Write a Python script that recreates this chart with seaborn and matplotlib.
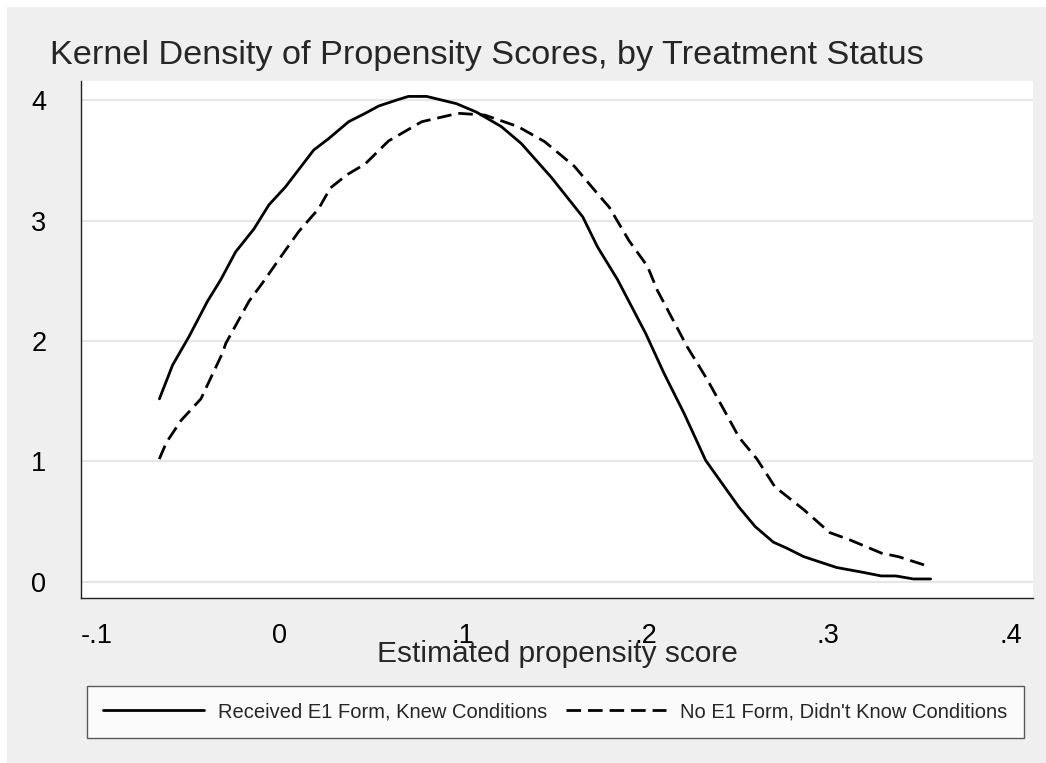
import matplotlib
matplotlib.use("Agg")
import matplotlib.pyplot as plt
from matplotlib.patches import Rectangle
import seaborn as sns
import pandas as pd

# ---- data ----
treated_x = [-0.0659, -0.0587, -0.0496, -0.0396, -0.0323, -0.0242, -0.0142, -0.0060,
             0.0031, 0.0185, 0.0267, 0.0376, 0.0467, 0.0540, 0.0639, 0.0703, 0.0803,
             0.0966, 0.1075, 0.1211, 0.1320, 0.1484, 0.1657, 0.1738, 0.1847, 0.2002,
             0.2102, 0.2211, 0.2329, 0.2512, 0.2600, 0.2700, 0.2774, 0.2866, 0.3046,
             0.3190, 0.3290, 0.3370, 0.3466, 0.3560]
treated_y = [1.52, 1.80, 2.04, 2.33, 2.51, 2.74, 2.93, 3.13,
             3.28, 3.585, 3.68, 3.82, 3.89, 3.95, 4.00, 4.03, 4.03,
             3.97, 3.90, 3.78, 3.64, 3.36, 3.03, 2.78, 2.51, 2.06,
             1.73, 1.40, 1.01, 0.62, 0.46, 0.33, 0.28, 0.21, 0.12,
             0.08, 0.05, 0.05, 0.025, 0.025]

control_x = [-0.0660, -0.0620, -0.0541, -0.0432, -0.0314, -0.0296, -0.0169, -0.0096,
             0.0031, 0.0104, 0.0213, 0.0276, 0.0367, 0.0467, 0.0594, 0.0776, 0.0975,
             0.1121, 0.1302, 0.1448, 0.1611, 0.1756, 0.1802, 0.1911, 0.2011, 0.2065,
             0.2229, 0.2338, 0.2429, 0.2512, 0.2610, 0.2708, 0.2866, 0.3008, 0.3117,
             0.3290, 0.3384, 0.3548]
control_y = [1.02, 1.16, 1.34, 1.52, 1.90, 1.98, 2.33, 2.48,
             2.755, 2.91, 3.10, 3.27, 3.38, 3.47, 3.66, 3.82, 3.89,
             3.875, 3.78, 3.655, 3.45, 3.19, 3.11, 2.83, 2.62, 2.42,
             1.95, 1.68, 1.43, 1.20, 1.02, 0.79, 0.60, 0.41, 0.35,
             0.24, 0.21, 0.13]

x_ticks = [-0.1, 0.0, 0.1, 0.2, 0.3, 0.4]
x_tick_labels = ["-.1", "0", ".1", ".2", ".3", ".4"]
y_ticks = [0, 1, 2, 3, 4]
y_tick_labels = ["0", "1", "2", "3", "4"]

label_treated = "Received E1 Form, Knew Conditions"
label_control = "No E1 Form, Didn't Know Conditions"
title = "Kernel Density of Propensity Scores, by Treatment Status"
xlabel = "Estimated propensity score"

# ---- style ----
sns.set_style("white")
plt.rcParams["font.family"] = ["Liberation Sans", "DejaVu Sans"]
plt.rcParams["lines.scale_dashes"] = False

W, H = 1046, 763
fig = plt.figure(figsize=(W / 100, H / 100), dpi=100, facecolor="white")
bg = Rectangle((7 / W, 0), 1 - 7 / W, 1 - 7 / H, transform=fig.transFigure,
               facecolor="#EFEFEF", edgecolor="none", zorder=-10)
fig.patches.append(bg)

ax = fig.add_axes([81 / W, 1 - 598 / H, (1033 - 81) / W, (598 - 81) / H])
ax.set_facecolor("white")

df_t = pd.DataFrame({"x": treated_x, "y": treated_y})
df_c = pd.DataFrame({"x": control_x, "y": control_y})
sns.lineplot(data=df_t, x="x", y="y", ax=ax, color="black", lw=2.0,
             legend=False, zorder=3)
sns.lineplot(data=df_c, x="x", y="y", ax=ax, color="black", lw=2.0,
             linestyle=(0, (10.5, 5.0)), legend=False, zorder=3)

ax.set_xlim(-0.1088, 0.412)
ax.set_ylim(-0.133, 4.158)
ax.set_xticks(x_ticks)
ax.set_xticklabels(x_tick_labels)
ax.set_yticks(y_ticks)
ax.set_yticklabels(y_tick_labels)

for y in y_ticks:
    ax.axhline(y, color="#E6E6E6", lw=1.6, zorder=1)

for s in ["top", "right"]:
    ax.spines[s].set_visible(False)
for s in ["left", "bottom"]:
    ax.spines[s].set_color("#222222")
    ax.spines[s].set_linewidth(1.0)

ax.tick_params(axis="both", which="major", direction="out", length=8,
               width=1.0, color="#555555", labelsize=19.5, labelcolor="black")
ax.tick_params(axis="y", pad=17)
ax.tick_params(axis="x", pad=10)

ax.set_xlabel(xlabel, fontsize=21.5, va="baseline")
ax.xaxis.set_label_coords(0.5, -(662 - 598) / (598 - 81))
ax.set_ylabel("")

fig.text(50 / W, 1 - 64 / H, title, fontsize=24.7, ha="left", va="baseline")

handles = ax.get_lines()[:2]
leg = fig.legend(handles, [label_treated, label_control], ncol=2,
                 loc="center", bbox_to_anchor=(555.5 / W, 1 - 712 / H),
                 fontsize=14.5, frameon=True, fancybox=False,
                 handlelength=5.0, handletextpad=0.7, columnspacing=0.9,
                 borderpad=0.8, borderaxespad=0)
leg.get_frame().set_edgecolor("#333333")
leg.get_frame().set_linewidth(1.0)
leg.get_frame().set_facecolor("white")

fig.savefig("out.png", dpi=100, facecolor=fig.get_facecolor())
